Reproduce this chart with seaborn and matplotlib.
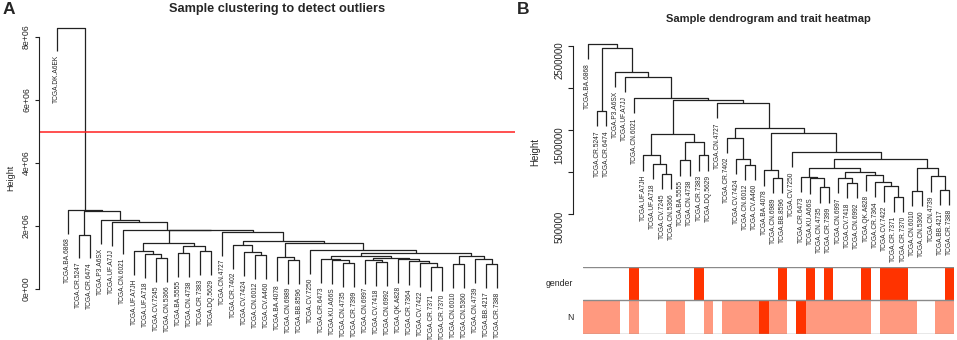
import numpy as np
import pandas as pd
import matplotlib
matplotlib.use("Agg")
import matplotlib.pyplot as plt
import seaborn as sns
from matplotlib.colors import LinearSegmentedColormap
from matplotlib.ticker import FixedLocator, FuncFormatter

# sample order as it appears under the trees (left to right)
samples = [
    "TCGA.BA.6868", "TCGA.CR.5247", "TCGA.CR.6474", "TCGA.P3.A6SX", "TCGA.UF.A7JJ",
    "TCGA.CN.6021", "TCGA.UF.A7JH", "TCGA.UF.A718", "TCGA.CV.7245", "TCGA.CN.5366",
    "TCGA.BA.5555", "TCGA.CN.4738", "TCGA.CR.7383", "TCGA.DQ.5629", "TCGA.CN.4727",
    "TCGA.CR.7402", "TCGA.CV.7424", "TCGA.CN.6012", "TCGA.CV.A460", "TCGA.BA.4078",
    "TCGA.CN.6989", "TCGA.BB.8596", "TCGA.CV.7250", "TCGA.CR.6473", "TCGA.KU.A66S",
    "TCGA.CN.4735", "TCGA.CR.7399", "TCGA.CN.6997", "TCGA.CV.7418", "TCGA.CN.6992",
    "TCGA.QK.A828", "TCGA.CR.7364", "TCGA.CV.7422", "TCGA.CR.7371", "TCGA.CR.7370",
    "TCGA.CN.6010", "TCGA.CN.5360", "TCGA.CN.4739", "TCGA.BB.4217", "TCGA.CR.7388",
]
outlier = "TCGA.DK.A6EK"
outlier_height = 8.3e6
cut_height = 5e6

# hclust-style merges: negative = sample (1-based), positive = earlier merge
merge_a = [-34, -36, -39, -26, -33, -29, -32, -21, -25, -28, -24, -38, -31, -9, 10, -20,
           11, 2, -18, -8, -11, 17, -17, -7, -13, -23, 21, -16, 16, 24, 28, -15, 30, -6,
           -5, -4, -2, 37, -1]
merge_b = [-35, -37, -40, -27, 1, -30, 5, -22, 4, 6, 9, 3, 7, -10, 13, 8,
           15, 12, -19, 14, -12, 18, 19, 20, -14, 22, 25, 23, 26, 27, 29, 31, 32, 33,
           34, 35, -3, 36, 38]
merge_h = [0.71e6, 0.78e6, 0.79e6, 0.82e6, 0.83e6, 0.87e6, 0.88e6, 0.93e6, 0.925e6, 0.93e6,
           0.945e6, 0.95e6, 0.96e6, 0.98e6, 1.00e6, 1.02e6, 1.05e6, 1.05e6, 1.09e6, 1.10e6,
           1.14e6, 1.15e6, 1.16e6, 1.20e6, 1.20e6, 1.24e6, 1.36e6, 1.41e6, 1.46e6, 1.45e6,
           1.52e6, 1.82e6, 1.86e6, 1.88e6, 2.13e6, 2.19e6, 1.73e6, 2.47e6, 2.52e6]

# traits under the second tree
gender = [0, 0, 0, 0, 0, 1, 0, 0, 0, 0, 0, 0, 1, 0, 0, 0, 0, 0, 0, 0,
          0, 1, 0, 0, 1, 0, 1, 0, 0, 0, 1, 0, 1, 1, 1, 0, 0, 0, 0, 1]
n_stage = [1, 1, 1, 1, 0, 1, 0, 0, 0, 1, 1, 0, 0, 1, 0, 1, 1, 1, 1, 2,
           1, 1, 0, 2, 1, 1, 1, 1, 1, 1, 1, 0, 1, 1, 1, 1, 0, 0, 1, 1]


def dendro(leaf_x, hang):
    node_x, xs, ys, leaf_end = [], [], [], {}
    for a, b, h in zip(merge_a, merge_b, merge_h):
        pts = []
        for k in (a, b):
            if k < 0:
                x, y0 = leaf_x[-k - 1], h - hang
                leaf_end[-k - 1] = y0
            else:
                x, y0 = node_x[k - 1], merge_h[k - 1]
            pts.append((x, y0))
        (xa, ya), (xb, yb) = pts
        xs += [xa, xa, xb, xb, np.nan]
        ys += [ya, h, h, yb, np.nan]
        node_x.append((xa + xb) / 2)
    return xs, ys, node_x[-1], leaf_end


sns.set_theme(style="white")
plt.rcParams["font.family"] = ["Liberation Sans", "DejaVu Sans"]

W, H = 957, 340
fig = plt.figure(figsize=(W / 100, H / 100), dpi=100)


def box(x0, y0, x1, y1):
    return [x0 / W, 1 - y1 / H, (x1 - x0) / W, (y1 - y0) / H]


line_kw = dict(color="#222222", lw=0.9, solid_capstyle="butt")

# ---- A: all samples
axA = fig.add_axes(box(39, 20, 515, 295))
hangA = 0.1 * (outlier_height - min(merge_h))
xA = np.arange(1, len(samples) + 1)
xs, ys, root_x, ends = dendro(xA, hangA)
xs += [0, 0, root_x, root_x]
ys += [outlier_height - hangA, outlier_height, outlier_height, merge_h[-1]]
axA.plot(xs, ys, **line_kw)
axA.axhline(cut_height, color="#ff2020", lw=1.1)
for i, name in enumerate(samples):
    axA.annotate(name, (xA[i], ends[i]), xytext=(0, -2.5), textcoords="offset points",
                 rotation=90, ha="center", va="top", fontsize=4.8, annotation_clip=False)
axA.annotate(outlier, (0, outlier_height - hangA), xytext=(0, -2.5), textcoords="offset points",
             rotation=90, ha="center", va="top", fontsize=4.8, annotation_clip=False)
axA.set_xlim(-1.607, 41.6)
axA.set_ylim(-0.19e6, 8.54e6)
axA.set_xticks([])
axA.yaxis.set_major_locator(FixedLocator([0, 2e6, 4e6, 6e6, 8e6]))
axA.yaxis.set_major_formatter(FuncFormatter(lambda v, _: f"{v:.0e}"))
axA.tick_params(axis="y", left=True, direction="out", length=3.2, width=0.8, pad=2.5,
                labelsize=6.3, labelrotation=90, color="#222222")
for t in axA.get_yticklabels():
    t.set_va("center")
sns.despine(ax=axA, bottom=True)
axA.spines["left"].set_bounds(0, 8e6)
axA.spines["left"].set_linewidth(0.8)
axA.spines["left"].set_color("#222222")
fig.text(11 / W, 1 - 178 / H, "Height", rotation=90, ha="center", va="center", fontsize=6.5)
fig.text(277 / W, 1 - 9 / H, "Sample clustering to detect outliers", ha="center", va="center",
         fontsize=9.2, fontweight="bold")
fig.text(9 / W, 1 - 10 / H, "A", ha="center", va="center", fontsize=12.5, fontweight="bold")

# ---- B: tree without outlier + traits
axB = fig.add_axes(box(583, 36, 954, 220))
xB = np.arange(len(samples)) + 0.5
hangB = 0.1 * (max(merge_h) - min(merge_h))
xs, ys, _, ends = dendro(xB, hangB)
axB.plot(xs, ys, **line_kw)
for i, name in enumerate(samples):
    axB.annotate(name, (xB[i], ends[i]), xytext=(0, -3), textcoords="offset points",
                 rotation=90, ha="center", va="top", fontsize=4.8, annotation_clip=False)
axB.set_xlim(0, len(samples))
axB.set_ylim(0.432e6, 2.615e6)
axB.set_xticks([])
shown = [500000, 1500000, 2500000]
axB.yaxis.set_major_locator(FixedLocator([5e5, 1e6, 1.5e6, 2e6, 2.5e6]))
axB.yaxis.set_major_formatter(FuncFormatter(lambda v, _: f"{int(v)}" if int(v) in shown else ""))
axB.tick_params(axis="y", left=True, direction="out", length=3.6, width=0.8, pad=3,
                labelsize=7, labelrotation=90, color="#222222")
for t in axB.get_yticklabels():
    t.set_va("center")
sns.despine(ax=axB, bottom=True)
axB.spines["left"].set_position(("outward", 7))
axB.spines["left"].set_bounds(5e5, 2.5e6)
axB.spines["left"].set_linewidth(0.8)
axB.spines["left"].set_color("#222222")
fig.text(535 / W, 1 - 152 / H, "Height", rotation=90, ha="center", va="center", fontsize=7)
fig.text(768 / W, 1 - 19 / H, "Sample dendrogram and trait heatmap", ha="center", va="center",
         fontsize=8, fontweight="bold")
fig.text(523.5 / W, 1 - 10 / H, "B", ha="center", va="center", fontsize=12.5, fontweight="bold")

axH = fig.add_axes(box(583, 266.7, 954, 334))
traits = pd.DataFrame({"gender": gender, "N": n_stage}, index=samples).T
scaled = traits.div(traits.max(axis=1), axis=0)
cmap = LinearSegmentedColormap.from_list("wr", ["#ffffff", "#ff3300"])
sns.heatmap(scaled, ax=axH, cmap=cmap, vmin=0, vmax=1, cbar=False,
            xticklabels=False, yticklabels=True)
axH.tick_params(axis="y", length=0, pad=7, labelsize=6.3)
axH.set_yticklabels(axH.get_yticklabels(), rotation=0)
axH.set_xlabel("")
axH.set_ylabel("")
for yv in range(len(traits) + 1):
    axH.axhline(yv, color="#8a8a8a", lw=1)

fig.savefig("out.png", dpi=100)
